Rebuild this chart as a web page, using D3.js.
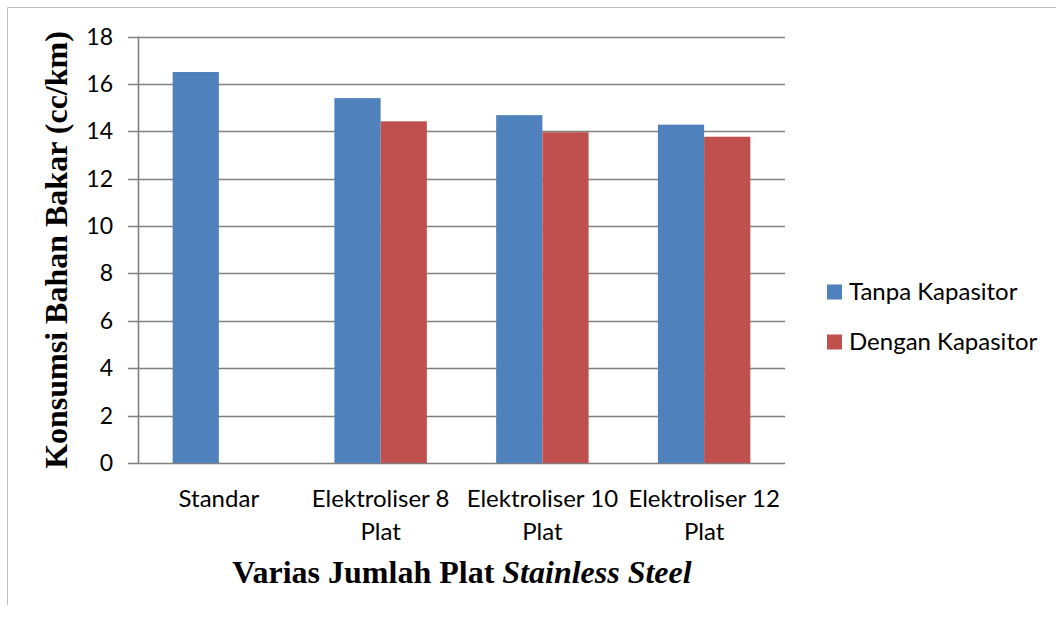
<!DOCTYPE html>
<html><head><meta charset="utf-8">
<script src="https://cdn.jsdelivr.net/npm/d3@7"></script>
<style>body{margin:0;background:#fff;} svg{display:block;}</style>
</head><body>
<svg id="chart" width="1056" height="619"></svg>
<script>
const categories = [["Standar"], ["Elektroliser 8", "Plat"], ["Elektroliser 10", "Plat"], ["Elektroliser 12", "Plat"]];
const seriesNames = ["Tanpa Kapasitor", "Dengan Kapasitor"];
const tanpaKapasitor = [16.5, 15.4, 14.68, 14.28];
const denganKapasitor = [null, 14.42, 13.96, 13.77];
const yTicks = [0, 2, 4, 6, 8, 10, 12, 14, 16, 18];
const colors = ["#4f81bd", "#c0504d"];

const svg = d3.select("#chart");
const lblFont = "Lato, 'Open Sans', sans-serif";
const lblSize = 24;
const margin = {left: 138, right: 785, top: 36.5, bottom: 463};

// frame
svg.append("line").attr("x1", 7.5).attr("x2", 1056).attr("y1", 7.5).attr("y2", 7.5).attr("stroke", "#bfbfbf");
svg.append("line").attr("x1", 7.5).attr("x2", 7.5).attr("y1", 7.5).attr("y2", 605).attr("stroke", "#bfbfbf");

const x0 = d3.scaleBand().domain(d3.range(categories.length)).range([margin.left, margin.right]).paddingInner(0).paddingOuter(0);
const bw = x0.bandwidth() / 3.5;
const x1 = d3.scaleBand().domain([0, 1]).range([x0.bandwidth() / 2 - bw, x0.bandwidth() / 2 + bw]);
const y = d3.scaleLinear().domain([0, 18]).range([margin.bottom, margin.top]);

// gridlines
svg.append("g").selectAll("line").data(yTicks).join("line")
  .attr("x1", margin.left - 10).attr("x2", margin.right)
  .attr("y1", d => Math.round(y(d)) + 0.5).attr("y2", d => Math.round(y(d)) + 0.5)
  .attr("stroke", "#808080").attr("stroke-width", 1.6);
// y axis line
svg.append("line").attr("x1", margin.left + 0.5).attr("x2", margin.left + 0.5)
  .attr("y1", y(18)).attr("y2", y(0)).attr("stroke", "#808080").attr("stroke-width", 1.6);

// y tick labels
svg.append("g").selectAll("text").data(yTicks).join("text")
  .attr("x", 113).attr("y", d => y(d)).attr("dy", "0.35em")
  .attr("text-anchor", "end").attr("font-family", lblFont).attr("font-size", lblSize - 1).attr("fill", "#000")
  .text(d => d);

// bars
const series = [tanpaKapasitor, denganKapasitor];
series.forEach((vals, si) => {
  svg.append("g").selectAll("rect").data(vals.map((v, i) => ({v, i})).filter(d => d.v != null)).join("rect")
    .attr("x", d => x0(d.i) + x1(si))
    .attr("width", x1.bandwidth())
    .attr("y", d => y(d.v))
    .attr("height", d => y(0) - y(d.v))
    .attr("fill", colors[si]);
});

// x labels
const xl = svg.append("g").selectAll("text").data(categories).join("text")
  .attr("font-family", lblFont).attr("font-size", lblSize).attr("text-anchor", "middle").attr("fill", "#000");
xl.each(function(lines, i) {
  d3.select(this).selectAll("tspan").data(lines).join("tspan")
    .attr("x", x0(i) + x0.bandwidth() / 2)
    .attr("y", (d, j) => 507 + j * 33)
    .text(d => d);
});

// y axis title
svg.append("text").attr("transform", "translate(67,250) rotate(-90)")
  .attr("text-anchor", "middle").attr("font-family", "'Liberation Serif', 'Times New Roman', serif")
  .attr("font-weight", "bold").attr("font-size", 32).text("Konsumsi Bahan Bakar (cc/km)");

// x axis title
const xt = svg.append("text").attr("x", 462).attr("y", 583).attr("text-anchor", "middle")
  .attr("font-family", "'Liberation Serif', 'Times New Roman', serif").attr("font-weight", "bold").attr("font-size", 32);
xt.append("tspan").text("Varias Jumlah Plat ");
xt.append("tspan").attr("font-style", "italic").text("Stainless Steel");

// legend
const lg = svg.append("g").selectAll("g").data(seriesNames).join("g")
  .attr("transform", (d, i) => `translate(827,${292 + i * 50})`);
lg.append("rect").attr("x", 0).attr("y", -7.5).attr("width", 15).attr("height", 15).attr("fill", (d, i) => colors[i]);
lg.append("text").attr("x", 22).attr("y", 8).attr("font-family", lblFont).attr("font-size", lblSize).text(d => d);
</script>
</body></html>
